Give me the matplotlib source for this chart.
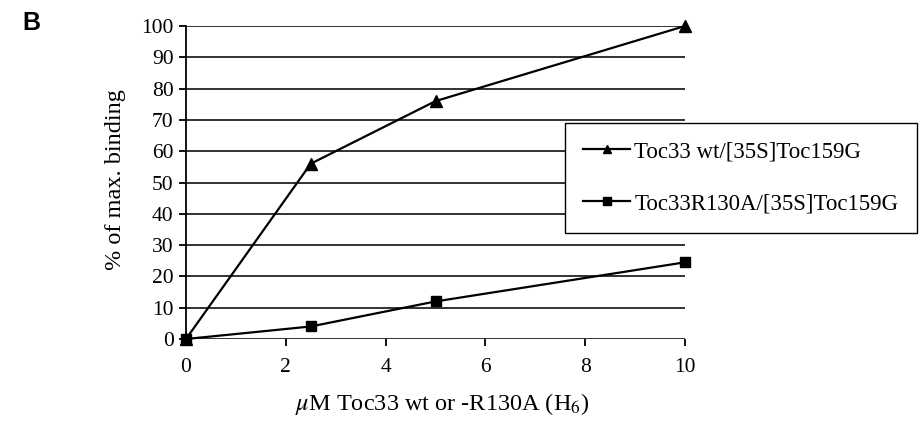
import matplotlib
matplotlib.use("Agg")
import matplotlib.pyplot as plt

plt.rcParams['font.family'] = ['Liberation Serif', 'DejaVu Serif']
plt.rcParams['mathtext.fontset'] = 'stix'

# Werte
konz = [0, 2.5, 5, 10]
wt_bindung = [0, 56, 76, 100]
r130a_bindung = [0, 4, 12, 24.5]
wt_name = "Toc33 wt/[35S]Toc159G"
r130a_name = "Toc33R130A/[35S]Toc159G"
x_ticks = [0, 2, 4, 6, 8, 10]
y_ticks = list(range(0, 101, 10))

fig = plt.figure(figsize=(9.24, 4.25), dpi=100)
ax = fig.add_axes([186 / 924, 1 - 339 / 425, 499 / 924, 313 / 425])

for y in y_ticks:
    ax.axhline(y, color="#222222", lw=1.3, zorder=1)

ax.plot(konz, wt_bindung, color="black", lw=1.6, marker="^", markersize=8,
        label=wt_name, clip_on=False, zorder=3)
ax.plot(konz, r130a_bindung, color="black", lw=1.6, marker="s", markersize=7,
        label=r130a_name, clip_on=False, zorder=3)

ax.set_xlim(0, 10)
ax.set_ylim(0, 100)
ax.set_xticks(x_ticks)
ax.set_yticks(y_ticks)
for s in ["top", "right", "bottom"]:
    ax.spines[s].set_visible(False)
ax.spines["left"].set_linewidth(1.3)
ax.tick_params(axis="y", direction="out", length=5, width=1.3, pad=4, labelsize=15.5)
ax.tick_params(axis="x", direction="out", length=5, width=1.3, pad=9, labelsize=15.5)

fig.text(116 / 924, 1 - 180 / 425, "% of max. binding", rotation=90,
         ha="center", va="center", fontsize=17.5)
fig.text(442 / 924, 1 - 404 / 425, r"$\mu$M Toc33 wt or -R130A (H$_6$)",
         ha="center", va="center", fontsize=17.5)
fig.text(22 / 924, 1 - 23 / 425, "B", family="Liberation Sans", weight="bold",
         fontsize=18, ha="left", va="center")

leg = ax.legend(loc="upper left", bbox_to_anchor=(565 / 924, 1 - 123 / 425),
                bbox_transform=fig.transFigure, borderaxespad=0, fontsize=16.5,
                fancybox=False, edgecolor="black", framealpha=1,
                handlelength=2.05, handletextpad=0.17, borderpad=0.8,
                labelspacing=1.35, markerscale=0.8)
leg.get_frame().set_linewidth(1.0)

fig.savefig("out.png", dpi=100)
